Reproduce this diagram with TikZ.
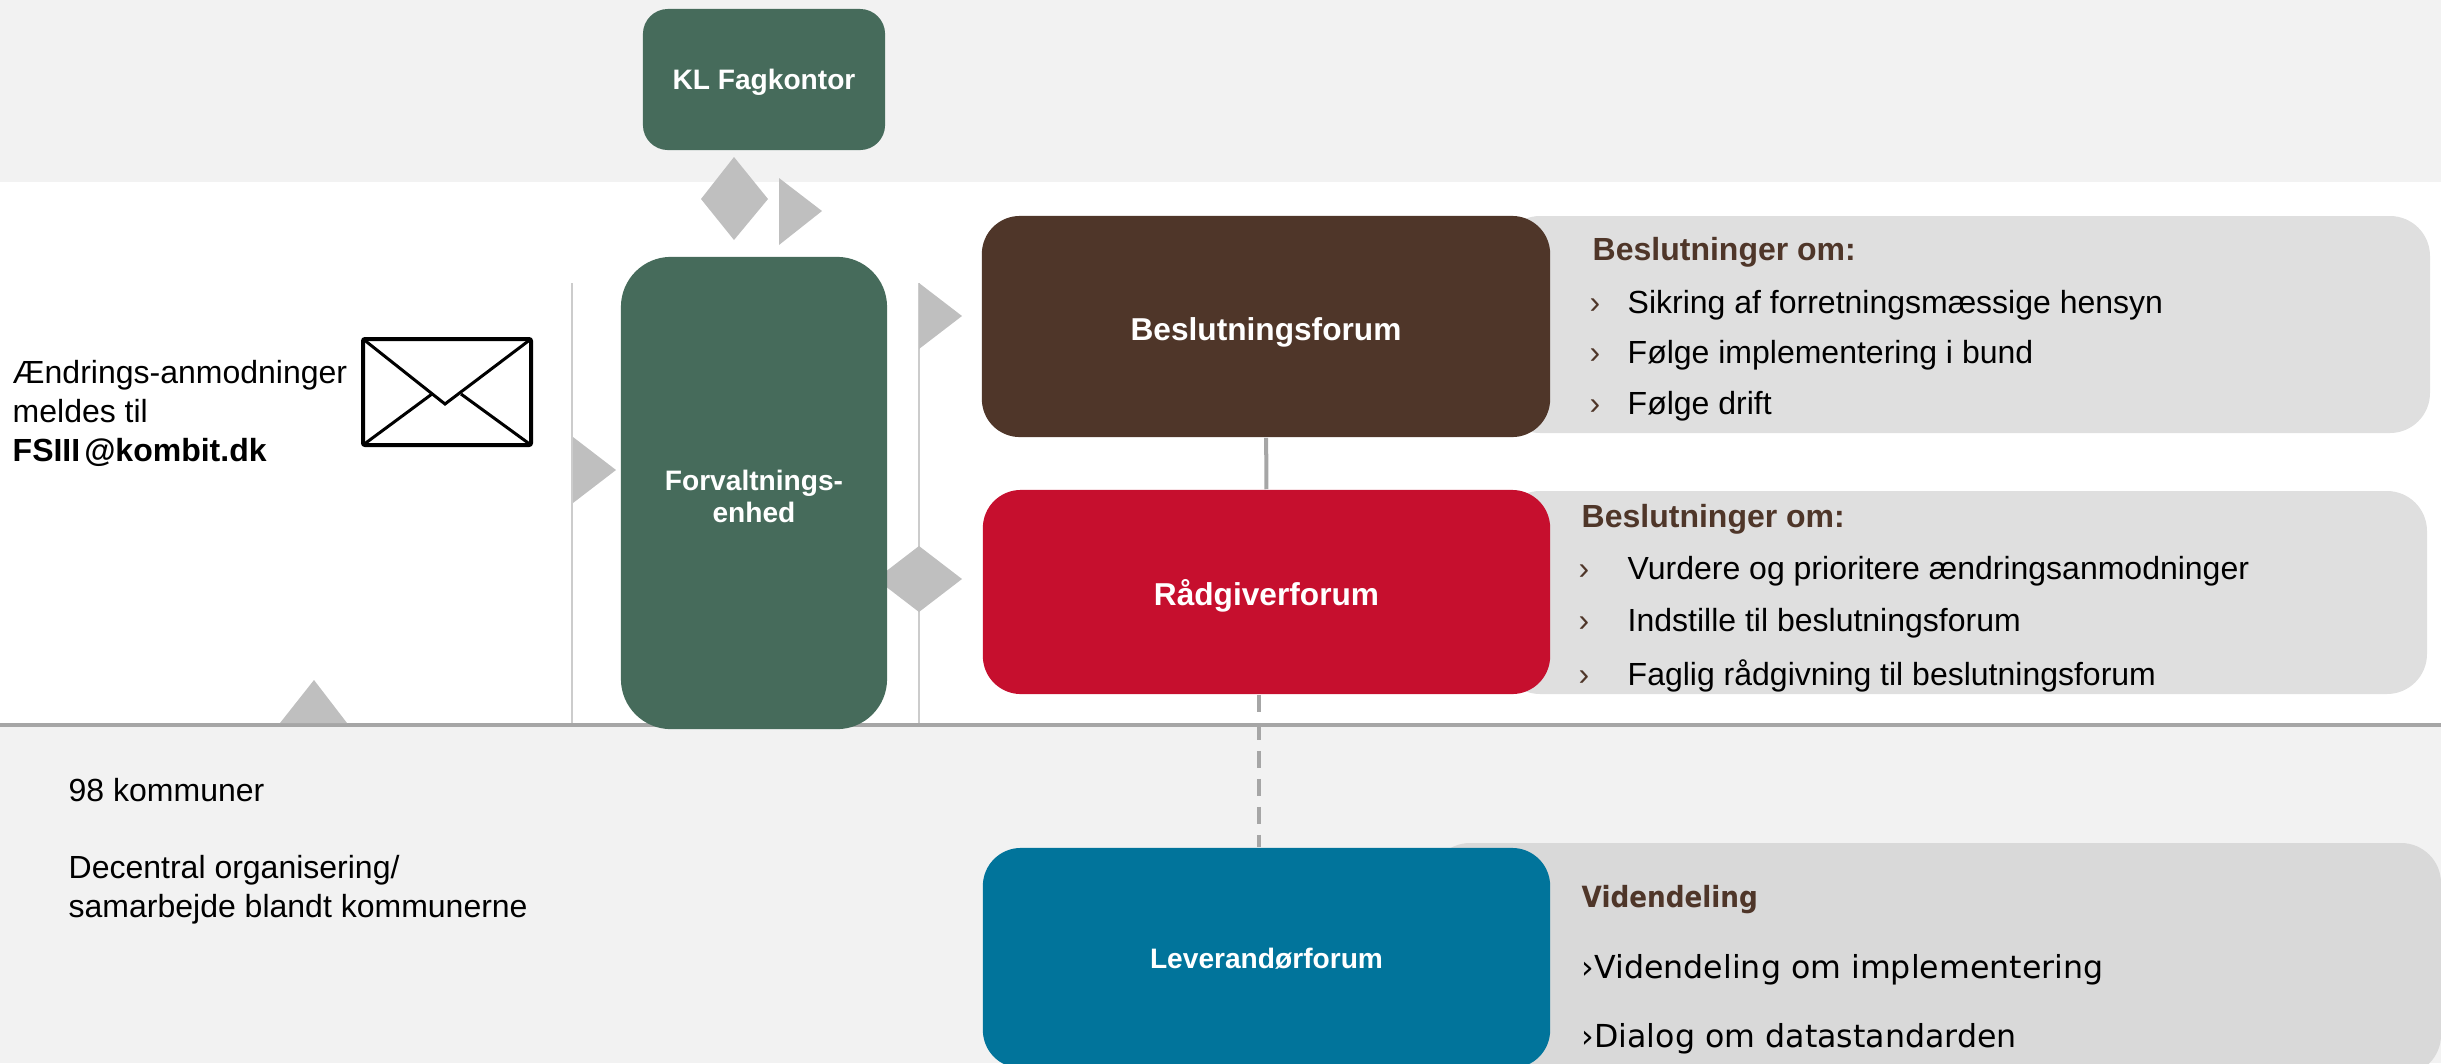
\documentclass[tikz,border=0pt]{standalone}
\usepackage{fontspec}
\setmainfont{Liberation Sans}
\newfontfamily\verdanafont{DejaVu Sans}
\newfontfamily\tahomafont{DejaVu Sans Condensed}
\definecolor{bandgrey}{HTML}{F2F2F2}
\definecolor{panelgrey}{HTML}{DFDFDF}
\definecolor{paneldark}{HTML}{D9D9D9}
\definecolor{markgrey}{HTML}{BFBFBF}
\definecolor{linegrey}{HTML}{A6A6A6}
\definecolor{kombitgreen}{HTML}{466B5B}
\definecolor{kombitbrown}{HTML}{4F3629}
\definecolor{kombitred}{HTML}{C60F2E}
\definecolor{kombitblue}{HTML}{01749B}
\begin{document}
\begin{tikzpicture}[x=0.01cm, y=-0.01cm]
    % Define styles
    \tikzset{
        forumbox/.style={rectangle, rounded corners=0.38cm, inner sep=0pt, text=white, text depth=0pt, align=center},
        boldlarge/.style={font=\fontsize{9}{11}\selectfont\bfseries},
        boldsmall/.style={font=\fontsize{8}{8.9}\selectfont\bfseries},
        markshape/.style={fill=markgrey},
        thinline/.style={markgrey!80, line width=0.012cm},
        mainline/.style={linegrey, line width=0.04cm},
        dashline/.style={linegrey, line width=0.04cm, dash pattern=on 0.17cm off 0.11cm},
        plaintext/.style={anchor=base west, inner sep=0pt, font=\fontsize{9.1}{11}\selectfont},
        heading/.style={plaintext, text=kombitbrown, font=\fontsize{9.1}{11}\selectfont\bfseries},
        bulletmark/.style={plaintext, text=kombitbrown},
        notetext/.style={anchor=base west, inner sep=0pt, align=left, font=\fontsize{9.1}{10.95}\selectfont},
        verdanatext/.style={anchor=base west, inner sep=0pt, font=\fontsize{9}{10}\selectfont\verdanafont},
        tahomahead/.style={anchor=base west, inner sep=0pt, text=kombitbrown, font=\fontsize{8.3}{10}\selectfont\tahomafont\bfseries}
    }

    \clip (0,0) rectangle (2441,1063);

    % Background bands
    \fill[bandgrey] (0,0) rectangle (2441,182);
    \fill[bandgrey] (0,725) rectangle (2441,1063);

    % Thin lines beside the middle box
    \draw[thinline] (572,283) -- (572,725);
    \draw[thinline] (919,283) -- (919,725);

    % Main horizontal line
    \draw[mainline] (0,725) -- (2441,725);

    % Text panels
    \fill[panelgrey, rounded corners=0.4cm] (1500,216) rectangle (2430,433);
    \fill[panelgrey, rounded corners=0.4cm] (1500,491) rectangle (2427,694);
    \fill[paneldark, rounded corners=0.4cm] (1430,843) rectangle (2441,1075);

    % Grey marks
    \fill[markshape] (734,157) -- (768,199) -- (734,240) -- (701,199) -- cycle;
    \fill[markshape] (779,178) -- (822,211) -- (779,245) -- cycle;
    \fill[markshape] (919,283) -- (962,316) -- (919,349) -- cycle;
    \fill[markshape] (919,546) -- (962,579) -- (919,612) -- (876,579) -- cycle;
    \fill[markshape] (573,437) -- (616,470) -- (573,503) -- cycle;
    \fill[markshape] (314,680) -- (347,723) -- (280,723) -- cycle;

    % Boxes
    \node[forumbox, boldsmall, fill=kombitgreen, minimum width=2.42cm, minimum height=1.41cm, rounded corners=0.25cm] (fagkontor) at (764,79.5) {KL Fagkontor};
    \node[forumbox, boldsmall, fill=kombitgreen, minimum width=2.66cm, minimum height=4.72cm, rounded corners=0.5cm, text height=16.5pt] (enhed) at (754,493) {Forvaltnings-\\enhed};
    \node[forumbox, boldlarge, fill=kombitbrown, minimum width=5.68cm, minimum height=2.21cm, text height=8.2pt] (beslutning) at (1266,326.5) {Beslutningsforum};
    \node[forumbox, boldlarge, fill=kombitred, minimum width=5.67cm, minimum height=2.04cm] (raadgiver) at (1266.5,592) {Rådgiverforum};
    \node[forumbox, boldsmall, fill=kombitblue, minimum width=5.67cm, minimum height=2.20cm] (leverandor) at (1266.5,958) {Leverandørforum};

    % Connectors between the forums
    \draw[mainline] (beslutning) -- (raadgiver);
    \draw[dashline] ([xshift=-0.08cm]raadgiver.south) -- ([xshift=-0.08cm]leverandor.north);

    % Envelope
    \draw[black, line width=0.04cm, rounded corners=0.02cm] (363,339) rectangle (531,445);
    \draw[black, line width=0.03cm] (363,339) -- (445,404) -- (531,339);
    \draw[black, line width=0.03cm] (363,445) -- (432,394);
    \draw[black, line width=0.03cm] (531,445) -- (461,394);

    % Left notes
    \node[notetext] (mailnote) at (12,461) {Ændrings-anmodninger\\meldes til\\\textbf{FSIII\hspace{0.04cm}@kombit.dk}};
    \node[notetext] (kommuner) at (68,801) {98 kommuner};
    \node[notetext] (decentral) at (68,917) {Decentral organisering/\\samarbejde blandt kommunerne};

    % First panel text
    \node[heading] (headone) at (1592,260) {Beslutninger om:};
    \node[bulletmark] (bulleta) at (1589,313) {›};
    \node[plaintext] (itema) at (1627,313) {Sikring af forretningsmæssige hensyn};
    \node[bulletmark] (bulletb) at (1589,363) {›};
    \node[plaintext] (itemb) at (1627,363) {Følge implementering i bund};
    \node[bulletmark] (bulletc) at (1589,414) {›};
    \node[plaintext] (itemc) at (1627,414) {Følge drift};

    % Second panel text
    \node[heading] (headtwo) at (1581,527) {Beslutninger om:};
    \node[bulletmark] (bulletd) at (1578,579) {›};
    \node[plaintext] (itemd) at (1627,579) {Vurdere og prioritere ændringsanmodninger};
    \node[bulletmark] (bullete) at (1578,631) {›};
    \node[plaintext] (iteme) at (1627,631) {Indstille til beslutningsforum};
    \node[bulletmark] (bulletf) at (1578,685) {›};
    \node[plaintext] (itemf) at (1627,685) {Faglig rådgivning til beslutningsforum};

    % Third panel text
    \node[tahomahead] (headthree) at (1581,907) {Videndeling};
    \node[verdanatext] (itemg) at (1581,978) {›Videndeling om implementering};
    \node[verdanatext] (itemh) at (1581,1047) {›Dialog om datastandarden};
\end{tikzpicture}
\end{document}
